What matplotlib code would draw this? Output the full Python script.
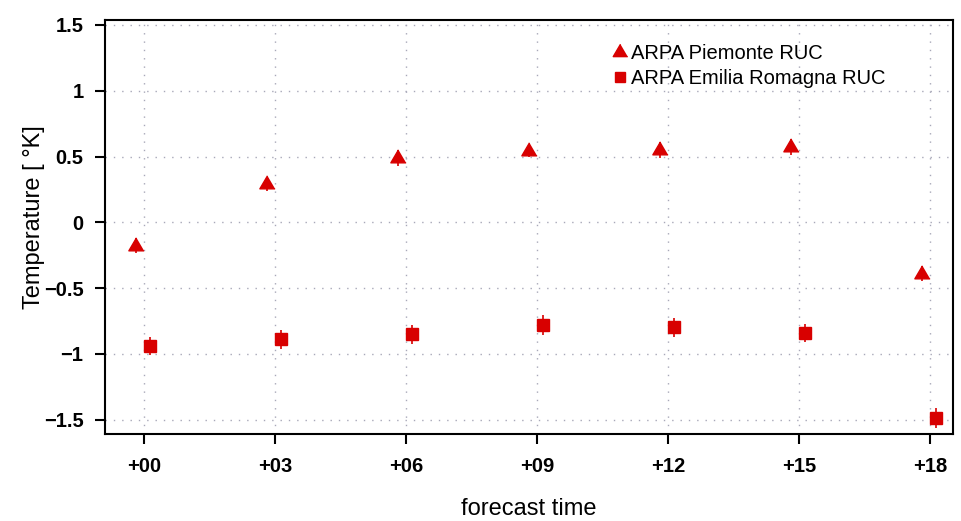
import numpy as np
import matplotlib
matplotlib.use("Agg")
import matplotlib.pyplot as plt

# forecast lead times (hours) and their labels
lead_h = [0, 3, 6, 9, 12, 15, 18]
lead_labels = ["+00", "+03", "+06", "+09", "+12", "+15", "+18"]

# mean temperature bias per lead time, with its uncertainty
piemonte = [-0.18, 0.29, 0.49, 0.54, 0.55, 0.57, -0.39]
piemonte_err = [0.057, 0.056, 0.06, 0.04, 0.064, 0.06, 0.06]
emilia = [-0.94, -0.89, -0.85, -0.78, -0.80, -0.84, -1.49]
emilia_err = [0.07, 0.07, 0.072, 0.076, 0.071, 0.07, 0.078]

y_ticks = [-1.5, -1, -0.5, 0, 0.5, 1, 1.5]
y_labels = ["\u22121.5", "\u22121", "\u22120.5", "0", "0.5", "1", "1.5"]

RED = "#d80000"
# triangle with its centroid on the data point
TRI = [(0, 1), (-0.88, -0.5), (0.88, -0.5)]

plt.rcParams["font.family"] = ["Liberation Sans", "DejaVu Sans"]

fig = plt.figure(figsize=(9.62, 5.21), dpi=100)
ax = fig.add_axes([105 / 962, 1 - 434 / 521, (953 - 105) / 962, (434 - 20) / 521])

x = np.array(lead_h, dtype=float)
xp, xe = x - 0.17, x + 0.15

ax.errorbar(xp, piemonte, yerr=piemonte_err, fmt="none", ecolor=RED, elinewidth=1.2, capsize=0)
ax.errorbar(xe, emilia, yerr=emilia_err, fmt="none", ecolor=RED, elinewidth=1.2, capsize=0)
ax.plot(xp, piemonte, ls="none", marker=TRI, ms=12.5, color=RED, mec=RED, label="ARPA Piemonte RUC")
ax.plot(xe, emilia, ls="none", marker="s", ms=8, color=RED, mec=RED, label="ARPA Emilia Romagna RUC")

ax.set_xlim(-0.89, 18.53)
ax.set_ylim(-1.61, 1.538)
ax.set_xticks(lead_h)
ax.set_xticklabels(lead_labels, fontweight="bold", fontsize=14.5)
ax.set_yticks(y_ticks)
ax.set_yticklabels(y_labels, fontweight="bold", fontsize=14.5)
ax.tick_params(axis="x", length=7.5, width=1.5, pad=9)
ax.tick_params(axis="y", length=7.5, width=1.5, pad=8)
for s in ax.spines.values():
    s.set_linewidth(1.5)

ax.grid(True, color="#a8a8b8", linestyle=(0, (1, 5)), linewidth=1.0)
ax.set_axisbelow(True)

ax.set_xlabel("forecast time", fontsize=17, labelpad=16)
ax.set_ylabel("Temperature [ °K]", fontsize=17)
ax.yaxis.set_label_coords(-0.0705, 0.523)

ax.legend(loc="upper left", bbox_to_anchor=(614 / 962, 1 - 44 / 521), bbox_transform=fig.transFigure,
          frameon=False, fontsize=14.5, handlelength=0.6, handletextpad=0.25, labelspacing=0.3,
          markerscale=0.95, borderpad=0, borderaxespad=0)

fig.savefig("out.png", dpi=100)
